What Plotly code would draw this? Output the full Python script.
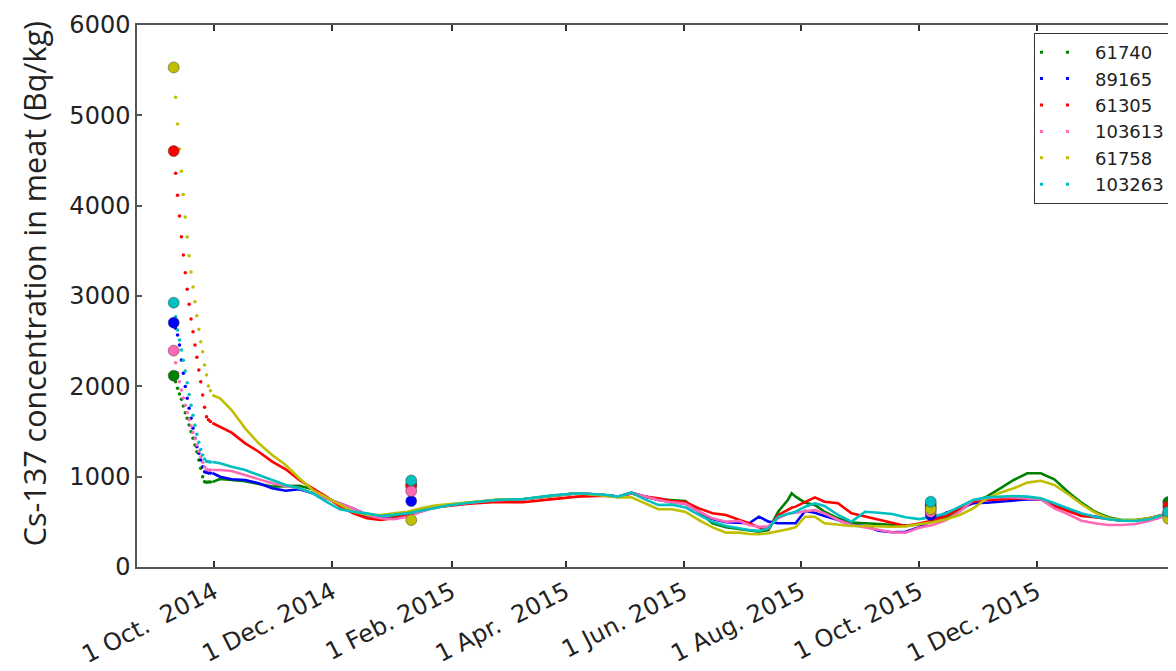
import plotly.graph_objects as go

# ---------------- data ----------------
series_names = ["61740", "89165", "61305", "103613", "61758", "103263"]
series_colors = ["#008000", "#0000ff", "#ff0000", "#ff69b4", "#bfbf00", "#00bfbf"]

meas_dates = ["2014-09-10", "2015-01-11", "2015-10-07", "2016-02-07"]

decay_dates = ["2014-09-11", "2014-09-12", "2014-09-13", "2014-09-14", "2014-09-15",
               "2014-09-16", "2014-09-17", "2014-09-18", "2014-09-19", "2014-09-20",
               "2014-09-21", "2014-09-22", "2014-09-23", "2014-09-24", "2014-09-25",
               "2014-09-26", "2014-09-27", "2014-09-28", "2014-09-29"]

line_dates = ["2014-09-30", "2014-10-04", "2014-10-10", "2014-10-17", "2014-10-24", "2014-10-31",
              "2014-11-07", "2014-11-14", "2014-11-21", "2014-11-28", "2014-12-05", "2014-12-12",
              "2014-12-19", "2014-12-26", "2015-01-02", "2015-01-09", "2015-01-16", "2015-01-23",
              "2015-01-30", "2015-02-10", "2015-02-24", "2015-03-10", "2015-03-24", "2015-04-07",
              "2015-04-21", "2015-04-28", "2015-05-05", "2015-05-12", "2015-05-19", "2015-05-26",
              "2015-06-02", "2015-06-09", "2015-06-16", "2015-06-23", "2015-06-30", "2015-07-05",
              "2015-07-10", "2015-07-15", "2015-07-20", "2015-07-25", "2015-07-27", "2015-07-29",
              "2015-08-03", "2015-08-08", "2015-08-13", "2015-08-20", "2015-08-27", "2015-09-03",
              "2015-09-10", "2015-09-17", "2015-09-24", "2015-10-01", "2015-10-08", "2015-10-15",
              "2015-10-22", "2015-10-29", "2015-11-05", "2015-11-12", "2015-11-19", "2015-11-26",
              "2015-12-03", "2015-12-10", "2015-12-17", "2015-12-24", "2015-12-31", "2016-01-07",
              "2016-01-14", "2016-01-21", "2016-01-28", "2016-02-04"]

# 61740 (green)
s61740_meas = [2118, 915, 690, 720]
s61740_decay = [2052, 1978, 1915, 1857, 1782, 1708, 1646, 1572, 1498, 1425,
                1351, 1276, 1185, 1092, 1000, 944, 938, 940, 940]
s61740_line = [940, 975, 965, 950, 920, 890, 895, 900, 860, 775, 680, 600,
               550, 535, 550, 585, 640, 670, 690, 716, 742, 750, 786, 816,
               797, 779, 823, 779, 749, 740, 730, 612, 484, 439, 417, 402,
               391, 410, 612, 742, 816, 779, 712, 686, 612, 539, 491, 484,
               475, 465, 460, 470, 500, 540, 620, 723, 779, 871, 963, 1037,
               1037, 971, 834, 712, 612, 550, 520, 520, 539, 576]

# 89165 (blue)
s89165_meas = [2705, 730, 575, 590]
s89165_decay = [2642, 2568, 2458, 2292, 2145, 1997, 1868, 1758, 1647, 1537,
                1426, 1332, 1259, 1185, 1111, 1055, 1045, 1040, 1040]
s89165_line = [1040, 1000, 971, 963, 927, 871, 845, 860, 816, 760, 705, 649,
               576, 545, 535, 565, 615, 660, 680, 712, 740, 750, 786, 816,
               797, 779, 820, 779, 742, 720, 700, 612, 530, 495, 484, 484,
               557, 502, 484, 484, 484, 484, 620, 601, 565, 520, 465, 454,
               402, 384, 391, 440, 520, 601, 649, 705, 712, 723, 742, 749,
               749, 690, 630, 580, 557, 528, 513, 515, 535, 576]

# 61305 (red)
s61305_meas = [4605, 895, 660, 670]
s61305_decay = [4358, 4115, 3886, 3657, 3454, 3258, 3074, 2908, 2745, 2605,
                2458, 2321, 2181, 2052, 1904, 1768, 1664, 1630, 1610]
s61305_line = [1594, 1553, 1487, 1369, 1276, 1166, 1081, 963, 871, 779, 675, 594,
               539, 520, 539, 576, 623, 660, 675, 700, 720, 716, 749, 779,
               790, 775, 815, 779, 760, 730, 720, 649, 594, 576, 520, 484,
               439, 417, 576, 639, 655, 668, 723, 771, 723, 705, 594, 557,
               520, 484, 454, 480, 515, 565, 649, 723, 742, 749, 760, 760,
               749, 675, 620, 565, 550, 528, 513, 515, 539, 576]

# 103613 (pink)
s103613_meas = [2395, 841, 610, 600]
s103613_decay = [2260, 2150, 2050, 1960, 1870, 1790, 1710, 1630, 1560, 1490,
                 1420, 1350, 1280, 1220, 1160, 1110, 1080, 1075, 1074]
s103613_line = [1074, 1074, 1063, 1018, 971, 927, 897, 871, 816, 760, 705, 649,
                576, 539, 528, 557, 612, 655, 680, 712, 740, 750, 786, 816,
                797, 779, 820, 779, 742, 715, 700, 612, 539, 502, 509, 465,
                446, 450, 539, 590, 595, 600, 612, 631, 594, 520, 465, 439,
                410, 384, 380, 435, 465, 520, 612, 742, 760, 775, 771, 760,
                749, 649, 587, 513, 484, 465, 465, 476, 509, 557]

# 61758 (olive)
s61758_meas = [5530, 520, 640, 535]
s61758_decay = [5200, 4905, 4628, 4380, 4125, 3875, 3653, 3446, 3265, 3099,
                2937, 2782, 2631, 2494, 2383, 2236, 2126, 2004, 1950]
s61758_line = [1904, 1867, 1738, 1535, 1369, 1240, 1129, 982, 852, 771, 686, 612,
               583, 576, 594, 612, 649, 680, 695, 720, 745, 752, 786, 816,
               790, 770, 771, 705, 639, 640, 610, 520, 439, 380, 380, 365,
               362, 373, 391, 417, 430, 439, 557, 557, 484, 465, 454, 454,
               446, 446, 450, 470, 495, 528, 576, 649, 760, 823, 871, 934,
               955, 908, 808, 697, 601, 540, 520, 520, 539, 576]

# 103263 (cyan)
s103263_meas = [2926, 958, 723, 612]
s103263_decay = [2771, 2624, 2513, 2402, 2290, 2170, 2040, 1910, 1790, 1680,
                 1570, 1470, 1380, 1300, 1240, 1195, 1170, 1165, 1162]
s103263_line = [1162, 1148, 1110, 1074, 1018, 963, 908, 871, 816, 723, 639, 612,
                594, 565, 576, 594, 623, 655, 680, 712, 742, 752, 790, 816,
                800, 779, 823, 749, 686, 690, 660, 576, 500, 454, 428, 410,
                400, 428, 557, 587, 600, 612, 668, 705, 675, 576, 502, 612,
                601, 587, 550, 530, 555, 594, 668, 742, 771, 779, 786, 779,
                760, 705, 649, 594, 557, 528, 513, 509, 528, 576]

y_tick_values = [0, 1000, 2000, 3000, 4000, 5000, 6000]
x_tick_dates = ["2014-10-01", "2014-12-01", "2015-02-01", "2015-04-01",
                "2015-06-01", "2015-08-01", "2015-10-01", "2015-12-01"]
x_tick_labels = ["1 Oct.\u00a0 2014", "1 Dec. 2014", "1 Feb. 2015", "1 Apr.\u00a0 2015",
                 "1 Jun. 2015", "1 Aug. 2015", "1 Oct. 2015", "1 Dec. 2015"]

all_meas = [s61740_meas, s89165_meas, s61305_meas, s103613_meas, s61758_meas, s103263_meas]
all_decay = [s61740_decay, s89165_decay, s61305_decay, s103613_decay, s61758_decay, s103263_decay]
all_line = [s61740_line, s89165_line, s61305_line, s103613_line, s61758_line, s103263_line]

# ---------------- figure ----------------
fig = go.Figure()

for name, col, dec, lin in zip(series_names, series_colors, all_decay, all_line):
    fig.add_trace(go.Scatter(x=decay_dates, y=dec, mode="markers",
                             marker=dict(color=col, size=3.5, line=dict(width=0)),
                             showlegend=False, hoverinfo="skip"))
    fig.add_trace(go.Scatter(x=line_dates, y=lin, mode="lines",
                             line=dict(color=col, width=2.6),
                             showlegend=False, name=name))

for name, col, meas in zip(series_names, series_colors, all_meas):
    fig.add_trace(go.Scatter(x=meas_dates, y=meas, mode="markers",
                             marker=dict(color=col, size=11,
                                         line=dict(color="rgba(60,60,60,0.6)", width=0.8)),
                             showlegend=False, name=name))

# legend entries (two small dots like the original legend)
for i, (name, col) in enumerate(zip(series_names, series_colors)):
    fig.add_trace(go.Scatter(x=[None], y=[None], mode="lines", name=name,
                             legendgroup="g%d" % i,
                             line=dict(color=col, width=3, dash="3px,23px")))

fig.add_annotation(text="Cs-137 concentration in meat (Bq/kg)", textangle=-90,
                   xref="paper", yref="paper", x=-0.099, y=0.522,
                   showarrow=False, xanchor="center", yanchor="middle",
                   font=dict(family="Open Sans", size=30.5, color="#222"))

# The page body adds an 8px offset; the figure is sized/margined to compensate.
fig.update_layout(
    width=1168, height=663,
    margin=dict(l=129, r=0, t=17, b=104),
    paper_bgcolor="white", plot_bgcolor="white",
    font=dict(family="DejaVu Sans", color="#222"),
    legend=dict(x=0.9942, y=0.9852, xanchor="right", yanchor="top",
                bgcolor="white", bordercolor="#333", borderwidth=1,
                font=dict(family="DejaVu Sans", size=18, color="#222"),
                tracegroupgap=0, itemwidth=50),
    showlegend=True,
)

fig.update_xaxes(type="date", range=["2014-08-22", "2016-02-11"], automargin=False,
                 tickvals=x_tick_dates, ticktext=x_tick_labels, tickangle=-27,
                 ticks="inside", ticklen=6, tickwidth=1.5, tickcolor="#333",
                 showline=True, linecolor="#555", linewidth=1.5, mirror="ticks",
                 showgrid=False, zeroline=False,
                 tickfont=dict(family="DejaVu Sans", size=24, color="#222"))
fig.update_yaxes(range=[0, 6000], tickvals=y_tick_values, automargin=False,
                 ticks="inside", ticklen=5, tickwidth=1.5, tickcolor="#555",
                 showline=True, linecolor="#555", linewidth=1.5, mirror=False,
                 showgrid=False, zeroline=False,
                 tickfont=dict(family="DejaVu Sans", size=24, color="#222"))

fig.write_html("out.html")
